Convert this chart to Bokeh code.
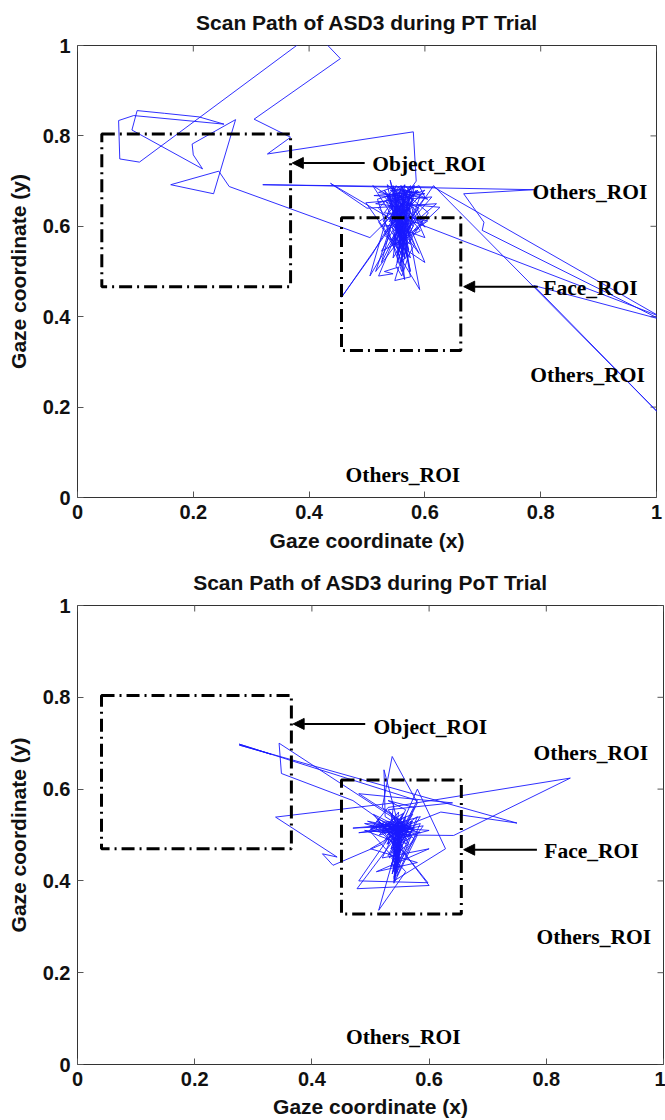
import math
from bokeh.plotting import figure
from bokeh.models import Range1d, Label, Arrow, NormalHead, FixedTicker
from bokeh.embed import file_html
from bokeh.resources import INLINE

# ---------------- data ----------------
titles = ["Scan Path of ASD3 during PT Trial", "Scan Path of ASD3 during PoT Trial"]
x_label = "Gaze coordinate (x)"
y_label = "Gaze coordinate (y)"
ticks = [0, 0.2, 0.4, 0.6, 0.8, 1]
tick_text = ["0", "0.2", "0.4", "0.6", "0.8", "1"]

# ROI boxes: [object, face]  (left, right, top, bottom)
pt_roi_left = [0.042, 0.456]
pt_roi_right = [0.368, 0.662]
pt_roi_top = [0.804, 0.619]
pt_roi_bottom = [0.466, 0.325]

pot_roi_left = [0.041, 0.4505]
pot_roi_right = [0.365, 0.655]
pot_roi_top = [0.804, 0.620]
pot_roi_bottom = [0.470, 0.328]

roi_text = ["Object_ROI", "Others_ROI", "Face_ROI", "Others_ROI", "Others_ROI"]
pt_text_x = [0.607, 0.885, 0.886, 0.881, 0.562]
pt_text_y = [0.737, 0.675, 0.464, 0.272, 0.050]
pot_text_x = [0.602, 0.876, 0.877, 0.881, 0.556]
pot_text_y = [0.736, 0.678, 0.465, 0.277, 0.059]

# arrows: tail x, head x, y
pt_arrow_tail = [0.496, 0.795]
pt_arrow_head = [0.371, 0.667]
pt_arrow_y = [0.740, 0.4665]
pot_arrow_tail = [0.491, 0.784]
pot_arrow_head = [0.368, 0.659]
pot_arrow_y = [0.742, 0.468]

# scan path, PT trial
pt_path = [
    (0.556, 0.640), (0.572, 0.598), (0.546, 0.655), (0.582, 0.690), (0.560, 0.560), (0.538, 0.672),
    (0.590, 0.640), (0.552, 0.585), (0.566, 0.682), (0.528, 0.612), (0.575, 0.530), (0.548, 0.665),
    (0.600, 0.598), (0.558, 0.690), (0.520, 0.640), (0.570, 0.575), (0.545, 0.625), (0.588, 0.680),
    (0.505, 0.575),
    (0.262, 0.688), (0.244, 0.722), (0.161, 0.692), (0.235, 0.672), (0.273, 0.836), (0.198, 0.782),
    (0.200, 0.758), (0.216, 0.727), (0.094, 0.813), (0.103, 0.856), (0.150, 0.850), (0.210, 0.842),
    (0.253, 0.826), (0.097, 0.845), (0.071, 0.834), (0.073, 0.749), (0.107, 0.742), (0.410, 1.030),
    (0.454, 0.971), (0.305, 0.837), (0.368, 0.797), (0.328, 0.760), (0.580, 0.809), (0.585, 0.700),
    (0.560, 0.655), (0.575, 0.560), (0.540, 0.600), (0.592, 0.668), (0.552, 0.520), (0.565, 0.692),
    (0.530, 0.630), (0.605, 0.612), (0.545, 0.558), (0.570, 0.680), (0.518, 0.660), (0.560, 0.500),
    (0.580, 0.640), (0.535, 0.692), (0.555, 0.580), (0.612, 0.665), (0.498, 0.652), (0.560, 0.540),
    (0.575, 0.690), (0.540, 0.620), (0.565, 0.482), (0.550, 0.660), (0.592, 0.590), (0.525, 0.545),
    (0.570, 0.650), (0.558, 0.600), (0.545, 0.690), (0.600, 0.520), (0.530, 0.580), (0.575, 0.670),
    (0.555, 0.560), (0.585, 0.620), (0.515, 0.500), (0.562, 0.682), (0.570, 0.530), (0.540, 0.650),
    (0.600, 0.680), (0.550, 0.610), (0.437, 0.695), (0.500, 0.640), (0.620, 0.650), (0.565, 0.590),
    (0.540, 0.702), (0.575, 0.500), (0.555, 0.640), (0.520, 0.610), (0.591, 0.460), (0.560, 0.670),
    (0.545, 0.530), (0.580, 0.600), (0.530, 0.680), (0.570, 0.560), (0.606, 0.630), (0.550, 0.690),
    (0.505, 0.490), (0.565, 0.620), (0.585, 0.680), (0.456, 0.443), (0.510, 0.540), (0.560, 0.650),
    (0.626, 0.642), (0.575, 0.580), (0.535, 0.670), (0.590, 0.540), (0.555, 0.600), (0.510, 0.690),
    (0.570, 0.640), (0.545, 0.600), (0.600, 0.575), (0.560, 0.690), (0.525, 0.520), (0.580, 0.660),
    (0.550, 0.570), (0.615, 0.690),
    (1.005, 0.185), (0.788, 0.469), (1.005, 0.395), (0.699, 0.591), (0.702, 0.609), (0.667, 0.672),
    (0.788, 0.681), (0.320, 0.692), (0.615, 0.687), (1.005, 0.401),
    (0.560, 0.620), (0.540, 0.640), (0.580, 0.690), (0.548, 0.560), (0.565, 0.605), (0.532, 0.655),
    (0.575, 0.625), (0.552, 0.585), (0.568, 0.668), (0.546, 0.612), (0.572, 0.548), (0.558, 0.632),
    (0.548, 0.672), (0.590, 0.676), (0.512, 0.668), (0.560, 0.664), (0.600, 0.672), (0.540, 0.684),
    (0.520, 0.675), (0.575, 0.662), (0.555, 0.676), (0.565, 0.640), (0.550, 0.598), (0.562, 0.548),
    (0.556, 0.620), (0.568, 0.585), (0.552, 0.535), (0.560, 0.575), (0.548, 0.655), (0.572, 0.615),
    (0.544, 0.570), (0.566, 0.660), (0.538, 0.610), (0.575, 0.640), (0.558, 0.512), (0.563, 0.560),
    (0.550, 0.640), (0.530, 0.665), (0.585, 0.672), (0.605, 0.660), (0.570, 0.670), (0.515, 0.650),
    (0.545, 0.645), (0.560, 0.600), (0.555, 0.545), (0.568, 0.625), (0.548, 0.590), (0.562, 0.660),
    (0.540, 0.680), (0.578, 0.676), (0.525, 0.600), (0.595, 0.610), (0.560, 0.630), (0.553, 0.570),
    (0.566, 0.528), (0.558, 0.600), (0.546, 0.640), (0.573, 0.652), (0.520, 0.490), (0.545, 0.495),
    (0.530, 0.500), (0.555, 0.510), (0.548, 0.480), (0.575, 0.488), (0.560, 0.600),
    (0.566, 0.622), (0.558, 0.648), (0.570, 0.662), (0.562, 0.684), (0.552, 0.670), (0.556, 0.642),
    (0.548, 0.618), (0.560, 0.596), (0.568, 0.574), (0.560, 0.552), (0.566, 0.530), (0.556, 0.518),
    (0.562, 0.540), (0.554, 0.566), (0.572, 0.588), (0.564, 0.610), (0.576, 0.630), (0.568, 0.652),
    (0.580, 0.668), (0.566, 0.690), (0.552, 0.678), (0.544, 0.656), (0.552, 0.632), (0.546, 0.606),
    (0.558, 0.582), (0.552, 0.556), (0.562, 0.532), (0.570, 0.548), (0.564, 0.572), (0.574, 0.598),
    (0.562, 0.624), (0.570, 0.646), (0.556, 0.668), (0.546, 0.686), (0.536, 0.664), (0.548, 0.640),
    (0.540, 0.614), (0.552, 0.590), (0.546, 0.562), (0.558, 0.540), (0.550, 0.512), (0.560, 0.490),
    (0.566, 0.512), (0.572, 0.536), (0.582, 0.560), (0.574, 0.586), (0.584, 0.612), (0.572, 0.636),
    (0.560, 0.660), (0.572, 0.680), (0.590, 0.690), (0.600, 0.664), (0.586, 0.640), (0.596, 0.612),
    (0.580, 0.590),
]
pt_x = [p[0] for p in pt_path]
pt_y = [p[1] for p in pt_path]

# scan path, PoT trial
pot_path = [
    (0.545, 0.500), (0.530, 0.520), (0.560, 0.480), (0.540, 0.540), (0.552, 0.460), (0.520, 0.510),
    (0.565, 0.520), (0.538, 0.440), (0.548, 0.530), (0.500, 0.515), (0.570, 0.495), (0.535, 0.470),
    (0.555, 0.545), (0.525, 0.490), (0.580, 0.540), (0.542, 0.420), (0.548, 0.510), (0.510, 0.530),
    (0.562, 0.500), (0.530, 0.455),
    (0.580, 0.575), (0.276, 0.698), (0.330, 0.676), (0.276, 0.696), (0.750, 0.526), (0.620, 0.550),
    (0.560, 0.520), (0.344, 0.700), (0.348, 0.634), (0.470, 0.575), (0.548, 0.505), (0.530, 0.480),
    (0.540, 0.570), (0.338, 0.539), (0.443, 0.452), (0.418, 0.459), (0.436, 0.434), (0.520, 0.480),
    (0.545, 0.510), (0.520, 0.525), (0.560, 0.495), (0.535, 0.545), (0.550, 0.470), (0.505, 0.520),
    (0.530, 0.560), (0.841, 0.624), (0.642, 0.499), (0.560, 0.500), (0.570, 0.530), (0.540, 0.430),
    (0.552, 0.505), (0.495, 0.530), (0.575, 0.510), (0.520, 0.560), (0.537, 0.671), (0.580, 0.570),
    (0.538, 0.460), (0.548, 0.550), (0.515, 0.500), (0.585, 0.525), (0.545, 0.410), (0.550, 0.520),
    (0.525, 0.540), (0.523, 0.642), (0.548, 0.520), (0.565, 0.480), (0.532, 0.450), (0.558, 0.535),
    (0.514, 0.336), (0.560, 0.420), (0.498, 0.510), (0.572, 0.545), (0.540, 0.480), (0.555, 0.515),
    (0.477, 0.383), (0.600, 0.390), (0.512, 0.535), (0.580, 0.500), (0.542, 0.400), (0.548, 0.525),
    (0.480, 0.400), (0.598, 0.396), (0.505, 0.545), (0.568, 0.505), (0.535, 0.470), (0.580, 0.600),
    (0.628, 0.470), (0.540, 0.400), (0.560, 0.540), (0.520, 0.505), (0.590, 0.520), (0.545, 0.440),
    (0.553, 0.530), (0.480, 0.590), (0.640, 0.570), (0.530, 0.555), (0.575, 0.490), (0.538, 0.420),
    (0.550, 0.500), (0.490, 0.525), (0.565, 0.520), (0.528, 0.480), (0.557, 0.548), (0.515, 0.515),
    (0.585, 0.540), (0.543, 0.455), (0.548, 0.515), (0.600, 0.510), (0.540, 0.490), (0.552, 0.525),
    (0.470, 0.515), (0.560, 0.520), (0.480, 0.505), (0.575, 0.515), (0.500, 0.520), (0.565, 0.505),
    (0.540, 0.520), (0.545, 0.470), (0.538, 0.500), (0.542, 0.445), (0.548, 0.490), (0.535, 0.430),
    (0.545, 0.480), (0.540, 0.405), (0.550, 0.460), (0.537, 0.415), (0.552, 0.495), (0.530, 0.510),
    (0.568, 0.515), (0.545, 0.500), (0.555, 0.470), (0.536, 0.450), (0.548, 0.430), (0.540, 0.470),
    (0.560, 0.510), (0.520, 0.515), (0.585, 0.505), (0.545, 0.520), (0.550, 0.440), (0.535, 0.490),
    (0.556, 0.525), (0.528, 0.500), (0.572, 0.530), (0.542, 0.460), (0.553, 0.480), (0.490, 0.510),
    (0.570, 0.500), (0.545, 0.420), (0.548, 0.505), (0.540, 0.395), (0.555, 0.510), (0.575, 0.560),
    (0.530, 0.575), (0.560, 0.555), (0.520, 0.450), (0.600, 0.470), (0.510, 0.420), (0.580, 0.440),
    (0.500, 0.470), (0.540, 0.500),
    (0.548, 0.512), (0.536, 0.524), (0.522, 0.516), (0.534, 0.505), (0.550, 0.494), (0.542, 0.480),
    (0.552, 0.468), (0.540, 0.456), (0.548, 0.444), (0.538, 0.432), (0.546, 0.420), (0.540, 0.410),
    (0.550, 0.430), (0.544, 0.452), (0.556, 0.472), (0.546, 0.490), (0.560, 0.505), (0.548, 0.518),
    (0.530, 0.530), (0.512, 0.522), (0.500, 0.512), (0.518, 0.506), (0.534, 0.514), (0.552, 0.526),
    (0.566, 0.516), (0.556, 0.500), (0.542, 0.488), (0.550, 0.476), (0.538, 0.462), (0.546, 0.448),
    (0.536, 0.438), (0.542, 0.424), (0.548, 0.438), (0.540, 0.470), (0.552, 0.486), (0.538, 0.496),
    (0.526, 0.512), (0.544, 0.522), (0.560, 0.530), (0.570, 0.520), (0.556, 0.508), (0.544, 0.500),
]
pot_x = [p[0] for p in pot_path]
pot_y = [p[1] for p in pot_path]

# ---------------- drawing ----------------
SANS = "Liberation Sans"
SERIF = "Liberation Serif"
TICK_COLOR = "#555555"


def make_plot(title, px, py, rl, rr, rt, rb, tx, ty, a_tail, a_head, a_y,
              border_right, border_bottom, xlabel_standoff):
    p = figure(width=665, height=560, output_backend="svg", toolbar_location=None,
               x_range=Range1d(0, 1), y_range=Range1d(0, 1),
               min_border_left=77, min_border_right=border_right,
               min_border_top=45, min_border_bottom=border_bottom)
    p.background_fill_color = "white"
    p.border_fill_color = "white"
    p.outline_line_color = "#333333"
    p.outline_line_width = 1
    p.xgrid.visible = False
    p.ygrid.visible = False

    p.title.text = title
    p.title.text_font = SANS
    p.title.text_font_size = "21px"
    p.title.text_font_style = "bold"
    p.title.align = "center"
    p.title.vertical_align = "top"
    p.title.text_color = "#111111"
    p.title.standoff = 20

    overrides = {t: s for t, s in zip(ticks, tick_text)}
    for ax in (p.xaxis[0], p.yaxis[0]):
        ax.ticker = FixedTicker(ticks=ticks)
        ax.major_label_overrides = overrides
        ax.major_label_text_font = SANS
        ax.major_label_text_font_size = "20px"
        ax.major_label_text_font_style = "bold"
        ax.major_label_text_color = "#111111"
        ax.major_tick_in = 6
        ax.major_tick_out = 0
        ax.minor_tick_in = 0
        ax.minor_tick_out = 0
        ax.major_tick_line_color = TICK_COLOR
        ax.axis_line_color = None
        ax.axis_label_text_font = SANS
        ax.axis_label_text_font_size = "21px"
        ax.axis_label_text_font_style = "bold"
        ax.axis_label_text_color = "#111111"
        ax.major_label_standoff = 7
    p.xaxis.axis_label = x_label
    p.yaxis.axis_label = y_label
    p.xaxis.axis_label_standoff = xlabel_standoff
    p.yaxis.axis_label_standoff = 10

    # inward tick marks on the top and right sides of the box (clipped to the frame)
    p.scatter(x=[1] * len(ticks), y=ticks, marker="dash", size=12,
              line_color=TICK_COLOR, line_width=1)
    p.scatter(x=ticks, y=[1] * len(ticks), marker="dash", angle=math.pi / 2, size=12,
              line_color=TICK_COLOR, line_width=1)

    p.line(px, py, line_color="#1a1aff", line_width=1, line_alpha=0.9)

    p.quad(left=rl, right=rr, top=rt, bottom=rb, fill_color=None, line_color="black",
           line_width=3, line_dash="13 5 2 5")

    for xs, xe, yy in zip(a_tail, a_head, a_y):
        p.add_layout(Arrow(x_start=xs, y_start=yy, x_end=xe, y_end=yy, line_width=2,
                           line_color="black",
                           end=NormalHead(size=11, fill_color="black", line_color="black")))

    for t, x, y in zip(roi_text, tx, ty):
        p.add_layout(Label(x=x, y=y, text=t, text_font=SERIF, text_font_size="21.5px",
                           text_font_style="bold", text_align="center",
                           text_baseline="middle", text_color="black"))
    return p


p1 = make_plot(titles[0], pt_x, pt_y, pt_roi_left, pt_roi_right, pt_roi_top, pt_roi_bottom,
               pt_text_x, pt_text_y, pt_arrow_tail, pt_arrow_head, pt_arrow_y, 9, 63, 7)
p2 = make_plot(titles[1], pot_x, pot_y, pot_roi_left, pot_roi_right, pot_roi_top,
               pot_roi_bottom, pot_text_x, pot_text_y, pot_arrow_tail, pot_arrow_head,
               pot_arrow_y, 2, 56, 6)

open("out.html", "w").write(file_html([p1, p2], INLINE))
